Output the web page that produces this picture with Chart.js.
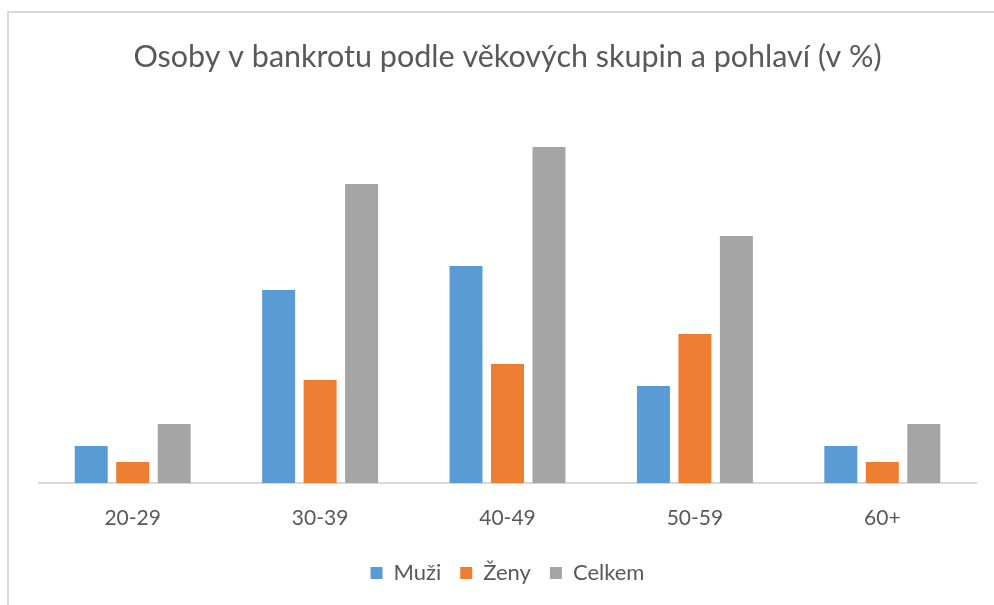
<!DOCTYPE html>
<html>
<head>
<meta charset="utf-8">
<script src="https://cdn.jsdelivr.net/npm/chart.js@4.4.0/dist/chart.umd.min.js"></script>
<style>
  html, body { margin: 0; padding: 0; background: #fff; }
  #wrap { position: relative; width: 994px; height: 605px; overflow: hidden; }
  #frame { position: absolute; left: 7px; top: 11px; width: 1100px; height: 700px;
           border-top: 2px solid #d9d9d9; border-left: 2px solid #d9d9d9; box-sizing: border-box; }
  canvas { position: absolute; left: 0; top: 0; }
</style>
</head>
<body>
<div id="wrap">
  <div id="frame"></div>
  <canvas id="c" width="994" height="605"></canvas>
</div>
<script>
const categories = ["20-29", "30-39", "40-49", "50-59", "60+"];
const muzi   = [3.7, 19.3, 21.7, 9.7, 3.7];
const zeny   = [2.1, 10.3, 11.9, 14.9, 2.1];
const celkem = [5.9, 29.9, 33.6, 24.7, 5.9];
const seriesNames = ["Muži", "Ženy", "Celkem"];
const titleText = "Osoby v bankrotu podle věkových skupin a pohlaví (v %)";

const FONT = "Lato, 'Open Sans', sans-serif";
const textColor = "#595959";

new Chart(document.getElementById("c"), {
  type: "bar",
  data: {
    labels: categories,
    datasets: [
      { label: seriesNames[0], data: muzi,   backgroundColor: "#5B9BD5" },
      { label: seriesNames[1], data: zeny,   backgroundColor: "#ED7D31" },
      { label: seriesNames[2], data: celkem, backgroundColor: "#A5A5A5" }
    ]
  },
  options: {
    responsive: false,
    animation: false,
    events: [],
    datasets: { bar: { categoryPercentage: 0.664, barPercentage: 0.795 } },
    layout: { padding: { left: 39, right: 18, top: 0, bottom: 11 } },
    scales: {
      x: {
        grid: { display: false },
        border: { display: true, color: "#d9d9d9", width: 2 },
        ticks: { color: textColor, font: { family: FONT, size: 21 }, padding: 15 },
        afterFit: (s) => { s.height = 60; }
      },
      y: {
        display: false,
        min: 0,
        max: 35
      }
    },
    plugins: {
      title: {
        display: true,
        text: titleText,
        color: textColor,
        font: { family: FONT, size: 30.5, weight: "normal" },
        padding: { top: 39, bottom: 57.5 }
      },
      legend: {
        position: "bottom",
        labels: {
          color: textColor,
          font: { family: FONT, size: 22 },
          boxWidth: 12,
          boxHeight: 12,
          padding: 19
        }
      },
      tooltip: { enabled: false }
    }
  }
});
</script>
</body>
</html>
